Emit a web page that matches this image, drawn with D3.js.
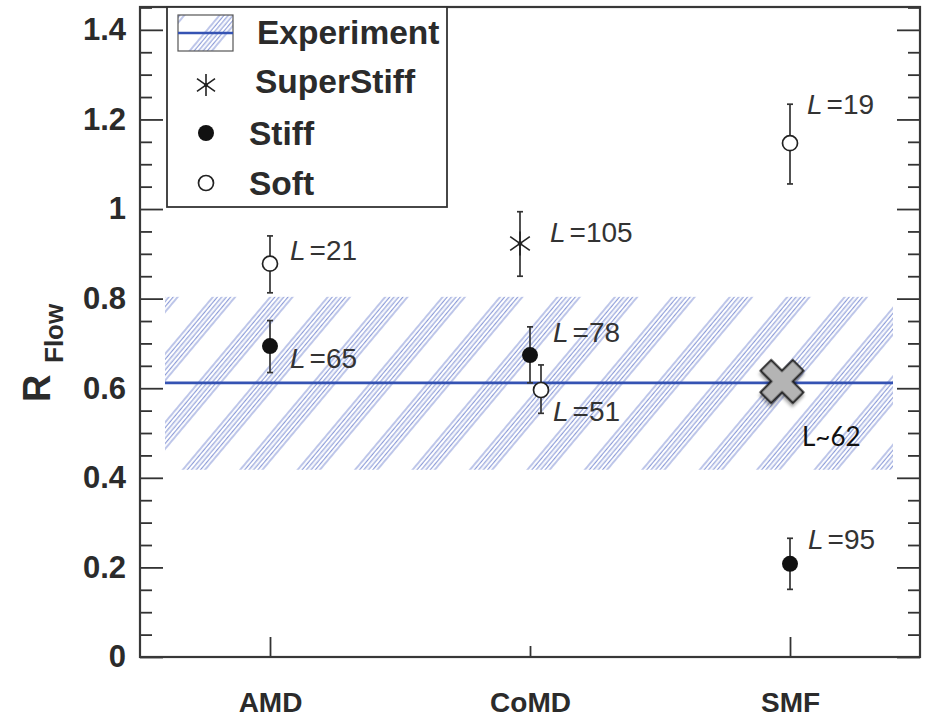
<!DOCTYPE html>
<html>
<head>
<meta charset="utf-8">
<script src="https://cdn.jsdelivr.net/npm/d3@7"></script>
<style>
  html, body { margin: 0; padding: 0; background: #fff; }
  svg { display: block; }
</style>
</head>
<body>
<svg id="chart" width="933" height="725"></svg>
<script>
// ---- data ----
const categories = ["AMD", "CoMD", "SMF"];
const yTickValues = [0, 0.2, 0.4, 0.6, 0.8, 1.0, 1.2, 1.4];

// experimental band: central value and its range
const experimentValue = 0.612;
const experimentLow = 0.418;
const experimentHigh = 0.804;

// model results (value with lower/upper error) and the L value printed next to each
const superStiffPoints = [
  { cat: "CoMD", value: 0.923, lo: 0.850, hi: 0.994, L: "105" }
];
const stiffPoints = [
  { cat: "AMD",  value: 0.694, lo: 0.635, hi: 0.751, L: "65" },
  { cat: "CoMD", value: 0.674, lo: 0.612, hi: 0.737, L: "78" },
  { cat: "SMF",  value: 0.208, lo: 0.151, hi: 0.265, L: "95" }
];
const softPoints = [
  { cat: "AMD",  value: 0.878, lo: 0.813, hi: 0.940, L: "21" },
  { cat: "CoMD", value: 0.596, lo: 0.544, hi: 0.652, L: "51" },
  { cat: "SMF",  value: 1.147, lo: 1.056, hi: 1.234, L: "19" }
];
const smfEstimate = [{ cat: "SMF", value: 0.615, text: "L~62" }];

const legendItems = ["Experiment", "SuperStiff", "Stiff", "Soft"];

// ---- layout ----
const svg = d3.select("#chart");
const plotLeft = 140, plotRight = 920, plotTop = 7, plotBottom = 657;

const x = d3.scalePoint().domain(categories).range([plotLeft, plotRight]).padding(0.5);
const y = d3.scaleLinear().domain([0, 1.451]).range([plotBottom, plotTop]);

// horizontal nudges so overlapping CoMD points stay readable
const nudge = {
  superStiff: { CoMD: -10 },
  stiff: {},
  soft: { CoMD: 11 },
  estimate: { SMF: -8 }
};
// label offsets [dx, dy] relative to each point
const labelOffset = {
  "superStiff/CoMD": [30, -2],
  "stiff/AMD": [20, 22], "stiff/CoMD": [23, -13], "stiff/SMF": [18, -15],
  "soft/AMD": [20, -4], "soft/CoMD": [12, 31], "soft/SMF": [17, -29],
  "estimate/SMF": [20, 64]
};

const tickFont = "'Liberation Sans', Arial, Helvetica, sans-serif";
const ink = "#2b2b2b";

// ---- hatch pattern ----
const defs = svg.append("defs");
const hatch = defs.append("pattern")
  .attr("id", "hatch")
  .attr("patternUnits", "userSpaceOnUse")
  .attr("width", 44).attr("height", 20)
  .attr("patternTransform", "rotate(40)");
d3.range(6).forEach(i => {
  hatch.append("line")
    .attr("x1", 2 + i * 3.4).attr("x2", 2 + i * 3.4)
    .attr("y1", 0).attr("y2", 20)
    .attr("stroke", "#8797d6").attr("stroke-width", 1.1);
});
const shadow = defs.append("filter").attr("id", "shadow")
  .attr("x", "-30%").attr("y", "-30%").attr("width", "160%").attr("height", "160%");
shadow.append("feDropShadow")
  .attr("dx", 2).attr("dy", 2.5).attr("stdDeviation", 1.6)
  .attr("flood-color", "#000").attr("flood-opacity", 0.35);

// ---- experiment band and line ----
svg.append("rect")
  .attr("x", plotLeft + 25).attr("width", (plotRight - 27) - (plotLeft + 25))
  .attr("y", y(experimentHigh)).attr("height", y(experimentLow) - y(experimentHigh))
  .attr("fill", "url(#hatch)");
svg.append("line")
  .attr("x1", plotLeft + 25).attr("x2", plotRight - 27)
  .attr("y1", y(experimentValue)).attr("y2", y(experimentValue))
  .attr("stroke", "#3553b3").attr("stroke-width", 2.6);

// ---- axes ----
const minorTicks = d3.range(0, 1.4501, 0.05).filter(v => Math.abs(v / 0.2 - Math.round(v / 0.2)) > 1e-6);

function styleAxis(g) {
  g.select(".domain").remove();
  g.selectAll(".tick line").attr("stroke", "#333").attr("stroke-width", 1.8);
}

svg.append("g").attr("transform", `translate(${plotLeft},0)`)
  .call(d3.axisLeft(y).tickValues(yTickValues).tickSizeInner(-23).tickSizeOuter(0).tickPadding(14)
    .tickFormat(d => String(+d.toFixed(1))))
  .call(styleAxis)
  .call(g => g.selectAll("text")
    .attr("font-family", tickFont).attr("font-weight", "bold")
    .attr("font-size", 31).attr("fill", ink));
svg.append("g").attr("transform", `translate(${plotLeft},0)`)
  .call(d3.axisLeft(y).tickValues(minorTicks).tickSizeInner(-12).tickSizeOuter(0).tickFormat(""))
  .call(styleAxis);
svg.append("g").attr("transform", `translate(${plotRight},0)`)
  .call(d3.axisRight(y).tickValues(yTickValues).tickSizeInner(-23).tickSizeOuter(0).tickFormat(""))
  .call(styleAxis);
svg.append("g").attr("transform", `translate(${plotRight},0)`)
  .call(d3.axisRight(y).tickValues(minorTicks).tickSizeInner(-12).tickSizeOuter(0).tickFormat(""))
  .call(styleAxis);

const xAxis = svg.append("g").attr("transform", `translate(0,${plotBottom})`)
  .call(d3.axisBottom(x).tickSizeInner(-20).tickSizeOuter(0).tickPadding(35))
  .call(styleAxis);
xAxis.selectAll("text")
  .attr("font-family", tickFont).attr("font-weight", "bold")
  .attr("font-size", 28).attr("fill", ink);
// the middle category carries a shorter tick
xAxis.selectAll(".tick").filter(d => d === "CoMD").select("line").attr("y2", -11);

// frame
svg.append("rect")
  .attr("x", plotLeft).attr("y", plotTop).attr("width", plotRight - plotLeft).attr("height", plotBottom - plotTop)
  .attr("fill", "none").attr("stroke", "#383838").attr("stroke-width", 2.2);

// axis title R_Flow
svg.append("text")
  .attr("transform", "translate(50,402) rotate(-90)")
  .attr("font-family", tickFont).attr("font-weight", "bold")
  .attr("font-size", 38).attr("fill", ink).text("R");
svg.append("text")
  .attr("transform", "translate(63,363) rotate(-90)")
  .attr("font-family", tickFont).attr("font-weight", "bold")
  .attr("font-size", 26).attr("fill", ink).text("Flow");

// ---- markers ----
const px = (series, d) => x(d.cat) + ((nudge[series] || {})[d.cat] || 0);

function errorBars(series, data) {
  const g = svg.append("g").attr("stroke", "#333").attr("stroke-width", 1.7);
  g.selectAll("line.bar").data(data).join("line").attr("class", "bar")
    .attr("x1", d => px(series, d)).attr("x2", d => px(series, d))
    .attr("y1", d => y(d.lo)).attr("y2", d => y(d.hi));
  ["lo", "hi"].forEach(k => {
    g.selectAll("line.cap-" + k).data(data).join("line").attr("class", "cap-" + k)
      .attr("x1", d => px(series, d) - 3).attr("x2", d => px(series, d) + 3)
      .attr("y1", d => y(d[k])).attr("y2", d => y(d[k]));
  });
}

function asteriskPath(cx, cy, r) {
  const p = d3.path();
  [90, 35, -35].forEach(a => {
    const t = a * Math.PI / 180;
    p.moveTo(cx - r * Math.cos(t), cy - r * Math.sin(t));
    p.lineTo(cx + r * Math.cos(t), cy + r * Math.sin(t));
  });
  return p.toString();
}

function pointLabels(series, data) {
  const t = svg.append("g").selectAll("text").data(data).join("text")
    .attr("x", d => px(series, d) + labelOffset[series + "/" + d.cat][0])
    .attr("y", d => y(d.value) + labelOffset[series + "/" + d.cat][1])
    .attr("font-family", tickFont).attr("font-size", 28).attr("fill", "#333");
  t.append("tspan").attr("font-style", "italic").text("L");
  t.append("tspan").attr("dx", 4).text(d => "=" + d.L);
}

errorBars("superStiff", superStiffPoints);
errorBars("stiff", stiffPoints);
errorBars("soft", softPoints);

svg.append("g").selectAll("path").data(superStiffPoints).join("path")
  .attr("d", d => asteriskPath(px("superStiff", d), y(d.value), 12))
  .attr("stroke", "#222").attr("stroke-width", 1.6).attr("fill", "none");
svg.append("g").selectAll("circle").data(superStiffPoints).join("circle")
  .attr("cx", d => px("superStiff", d)).attr("cy", d => y(d.value)).attr("r", 2.2).attr("fill", "#222");

svg.append("g").selectAll("circle").data(stiffPoints).join("circle")
  .attr("cx", d => px("stiff", d)).attr("cy", d => y(d.value)).attr("r", 8)
  .attr("fill", "#111");
svg.append("g").selectAll("circle").data(softPoints).join("circle")
  .attr("cx", d => px("soft", d)).attr("cy", d => y(d.value)).attr("r", 7.5)
  .attr("fill", "#fff").attr("stroke", "#222").attr("stroke-width", 1.7);

pointLabels("superStiff", superStiffPoints);
pointLabels("stiff", stiffPoints);
pointLabels("soft", softPoints);

// SMF estimate: grey cross
svg.append("g").selectAll("path").data(smfEstimate).join("path")
  .attr("d", d3.symbol(d3.symbolCross).size(1150))
  .attr("transform", d => `translate(${px("estimate", d)},${y(d.value)}) rotate(45)`)
  .attr("fill", "#b4b4b4").attr("stroke", "#1a1a1a").attr("stroke-width", 2)
  .attr("stroke-linejoin", "miter").attr("filter", "url(#shadow)");
svg.append("g").selectAll("text").data(smfEstimate).join("text")
  .attr("x", d => px("estimate", d) + labelOffset["estimate/" + d.cat][0])
  .attr("y", d => y(d.value) + labelOffset["estimate/" + d.cat][1])
  .attr("font-family", "Lato, 'Open Sans', sans-serif").attr("font-size", 26)
  .attr("fill", "#111").text(d => d.text);

// ---- legend ----
const lg = svg.append("g");
lg.append("rect").attr("x", 167).attr("y", plotTop).attr("width", 280).attr("height", 200)
  .attr("fill", "#fff").attr("stroke", "#333").attr("stroke-width", 1.8);
lg.append("rect").attr("x", 178).attr("y", 15).attr("width", 55).attr("height", 36)
  .attr("fill", "url(#hatch)").attr("stroke", "#555").attr("stroke-width", 1.2);
lg.append("line").attr("x1", 178).attr("x2", 233).attr("y1", 33).attr("y2", 33)
  .attr("stroke", "#3553b3").attr("stroke-width", 2.6);
lg.append("path").attr("d", asteriskPath(206, 85, 11))
  .attr("stroke", "#222").attr("stroke-width", 1.6).attr("fill", "none");
lg.append("circle").attr("cx", 206).attr("cy", 85).attr("r", 2).attr("fill", "#222");
lg.append("circle").attr("cx", 206).attr("cy", 133).attr("r", 8).attr("fill", "#111");
lg.append("circle").attr("cx", 206).attr("cy", 183).attr("r", 7.5)
  .attr("fill", "#fff").attr("stroke", "#222").attr("stroke-width", 1.7);

const legendText = [
  { x: 257, y: 44 }, { x: 255, y: 93 }, { x: 249, y: 145 }, { x: 249, y: 195 }
];
lg.selectAll("text.lab").data(legendItems).join("text").attr("class", "lab")
  .attr("x", (d, i) => legendText[i].x).attr("y", (d, i) => legendText[i].y)
  .attr("font-family", tickFont).attr("font-weight", "bold")
  .attr("font-size", 33.5).attr("fill", ink).text(d => d);
</script>
</body>
</html>
